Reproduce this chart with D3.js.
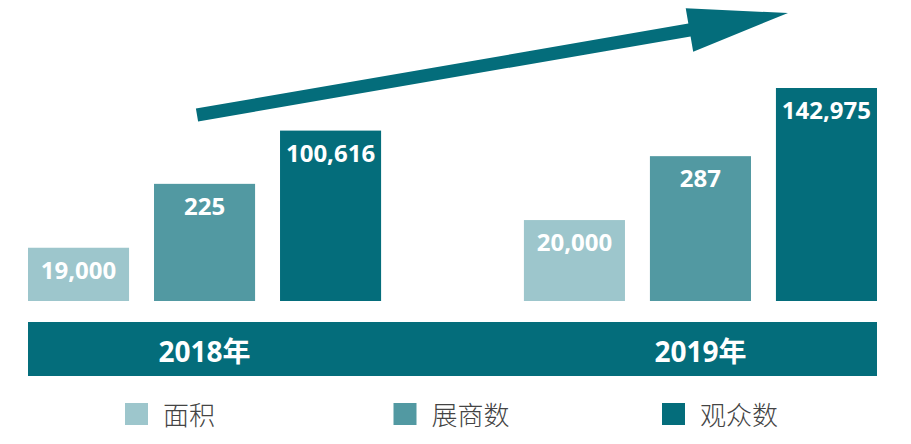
<!DOCTYPE html>
<html>
<head>
<meta charset="utf-8">
<script src="https://cdn.jsdelivr.net/npm/d3@7"></script>
<style>
  html, body { margin: 0; padding: 0; background: #fff; }
  svg { display: block; }
</style>
</head>
<body>
<div id="chart"></div>
<script>
// data
const years = ["2018年", "2019年"];
const metrics = ["面积", "展商数", "观众数"];
const values2018 = [19000, 225, 100616];
const values2019 = [20000, 287, 142975];
// bars in the picture are not to scale: relative display height (0-100)
const level2018 = [25, 55, 80];
const level2019 = [38, 68, 100];

const colors = ["#9dc6cc", "#5299a2", "#046d7b"];
const dark = "#046d7b";

const width = 911, height = 444;

const svg = d3.select("#chart")
    .append("svg")
    .attr("width", width)
    .attr("height", height);

const x0 = d3.scaleBand()
    .domain(years)
    .range([28, 877])
    .paddingInner(0.288)
    .paddingOuter(0);

const x1 = d3.scaleBand()
    .domain(metrics)
    .range([0, x0.bandwidth()])
    .paddingInner(0.198)
    .paddingOuter(0);

const y = d3.scaleLinear()
    .domain([0, 100])
    .range([301, 88]);

const color = d3.scaleOrdinal().domain(metrics).range(colors);

const fmt = d3.format(",");

const rows = years.map((yr, i) => ({
    year: yr,
    items: metrics.map((m, j) => ({
        metric: m,
        value: [values2018, values2019][i][j],
        level: [level2018, level2019][i][j]
    }))
}));

// trend arrow
function arrowPath(sx, sy, tx, ty, shaft, headLen, headHalf) {
    const dx = tx - sx, dy = ty - sy;
    const len = Math.sqrt(dx * dx + dy * dy);
    const ux = dx / len, uy = dy / len;
    const nx = -uy, ny = ux;
    const bx = tx - ux * headLen, by = ty - uy * headLen;
    const h = shaft / 2;
    const pts = [
        [sx + nx * h, sy + ny * h],
        [bx + nx * h, by + ny * h],
        [bx + nx * headHalf, by + ny * headHalf],
        [tx, ty],
        [bx - nx * headHalf, by - ny * headHalf],
        [bx - nx * h, by - ny * h],
        [sx - nx * h, sy - ny * h]
    ];
    return "M" + pts.map(p => p.join(",")).join("L") + "Z";
}

svg.append("path")
    .attr("d", arrowPath(197, 115, 788, 13, 13, 100, 22))
    .attr("fill", dark);

// bars
const groups = svg.selectAll(".year-group")
    .data(rows)
    .enter()
    .append("g")
    .attr("class", "year-group")
    .attr("transform", d => `translate(${x0(d.year)},0)`);

groups.selectAll("rect")
    .data(d => d.items)
    .enter()
    .append("rect")
    .attr("x", d => x1(d.metric))
    .attr("y", d => y(d.level))
    .attr("width", x1.bandwidth())
    .attr("height", d => y(0) - y(d.level))
    .attr("fill", d => color(d.metric));

groups.selectAll("text.value")
    .data(d => d.items)
    .enter()
    .append("text")
    .attr("class", "value")
    .attr("x", d => x1(d.metric) + x1.bandwidth() / 2)
    .attr("y", d => y(d.level) + 31)
    .attr("text-anchor", "middle")
    .style("font-family", "'Noto Sans', 'Open Sans', sans-serif")
    .style("font-weight", "700")
    .style("font-size", "24px")
    .style("fill", "#fff")
    .text(d => fmt(d.value));

// year band
svg.append("rect")
    .attr("x", x0.range()[0])
    .attr("y", 322)
    .attr("width", x0.range()[1] - x0.range()[0])
    .attr("height", 54)
    .attr("fill", dark);

svg.selectAll("text.year")
    .data(years)
    .enter()
    .append("text")
    .attr("class", "year")
    .attr("x", d => x0(d) + x1(metrics[1]) + x1.bandwidth() / 2)
    .attr("y", 362)
    .attr("text-anchor", "middle")
    .style("font-family", "'Noto Sans', 'Noto Sans CJK SC', sans-serif")
    .style("font-weight", "700")
    .style("font-size", "28px")
    .style("fill", "#fff")
    .text(d => d);

// legend
const lx = d3.scalePoint().domain(metrics).range([125, 662]);

const legend = svg.selectAll(".legend")
    .data(metrics)
    .enter()
    .append("g")
    .attr("class", "legend")
    .attr("transform", d => `translate(${lx(d)},403)`);

legend.append("rect")
    .attr("width", 23)
    .attr("height", 22)
    .attr("fill", d => color(d));

legend.append("text")
    .attr("x", 38)
    .attr("y", 22)
    .style("font-family", "'Noto Sans CJK SC', sans-serif")
    .style("font-weight", "300")
    .style("font-size", "26px")
    .style("fill", "#444")
    .text(d => d);
</script>
</body>
</html>
